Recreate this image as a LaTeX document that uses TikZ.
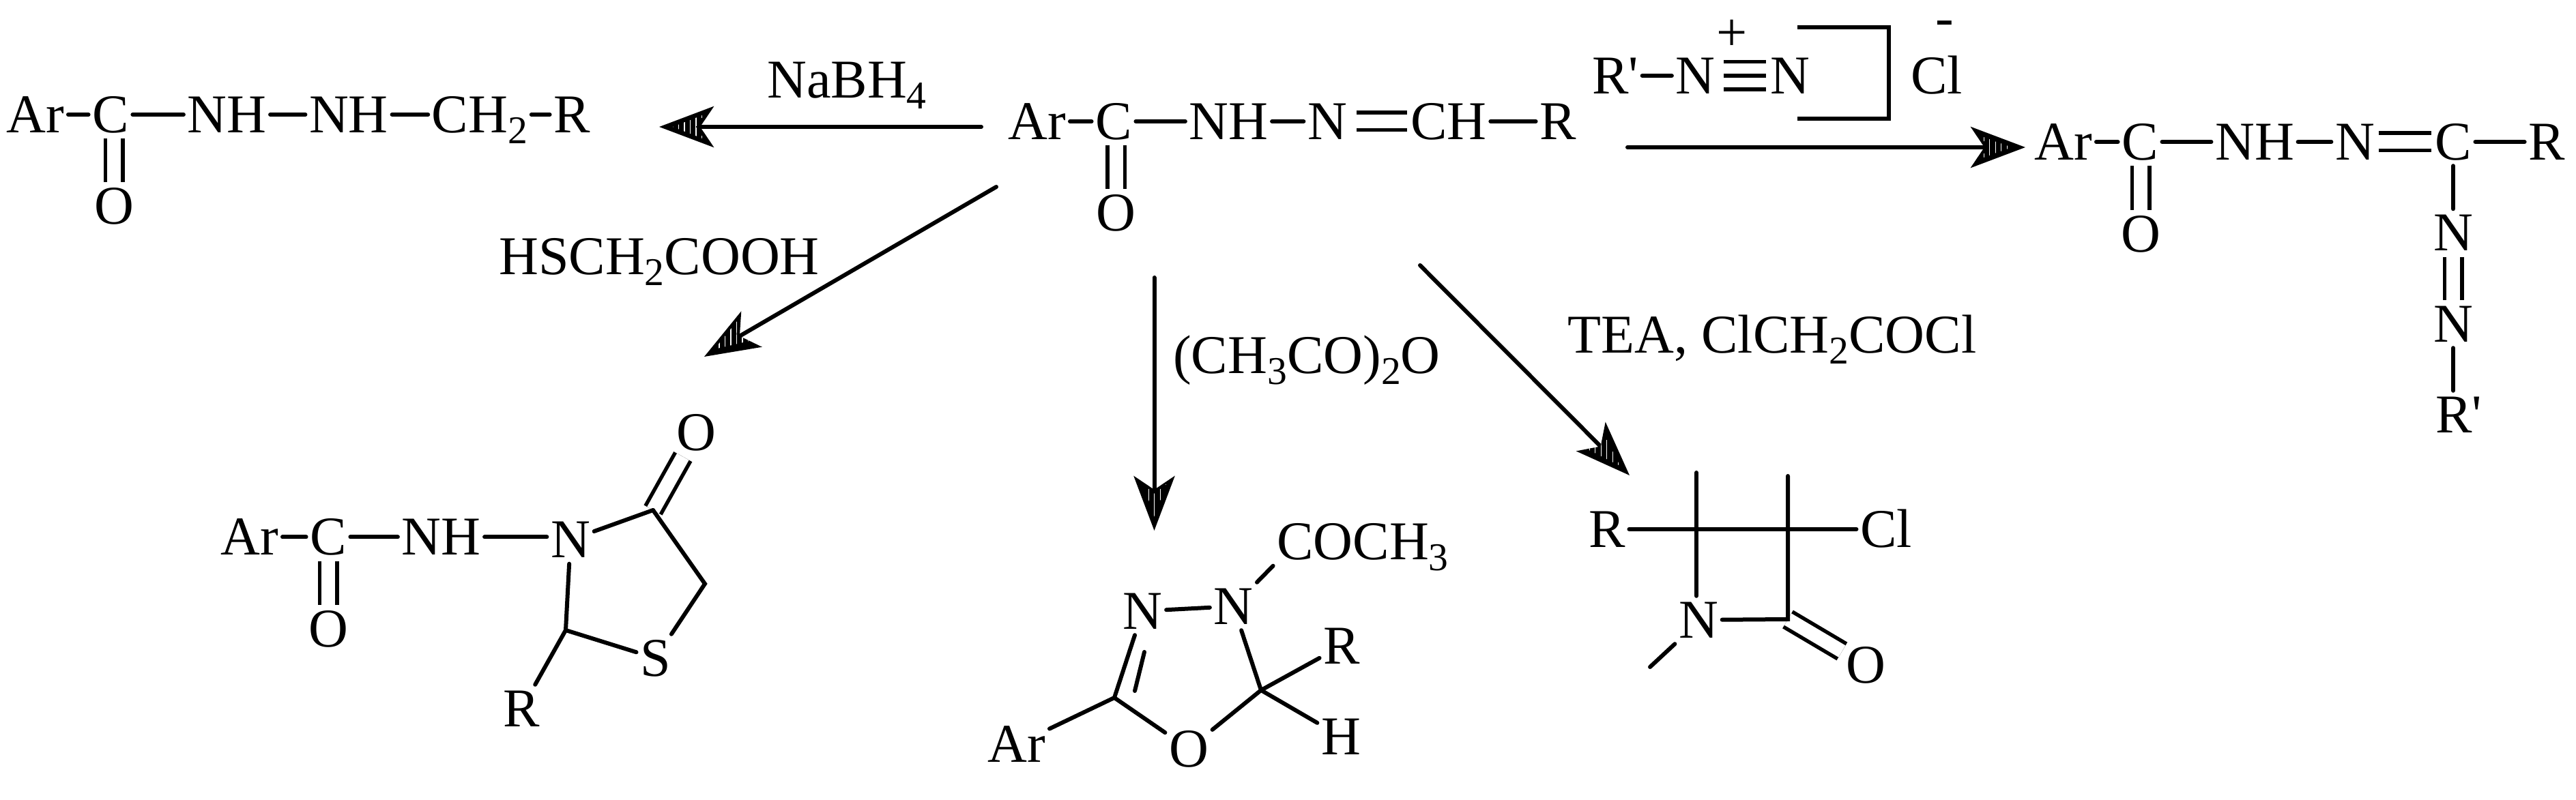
\documentclass[tikz,border=0pt]{standalone}
\usepackage{fontspec}
\setmainfont{Liberation Serif}
\usetikzlibrary{arrows.meta,patterns.meta}
\newcommand{\atomfont}{\fontsize{22.8}{27}\selectfont}
\newcommand{\chemsub}[1]{\raisebox{-.16cm}{\fontsize{16.4}{18}\selectfont #1}}
\newcommand{\primed}{\textquotesingle}
\tikzset{%
	atom/.style     = {font=\atomfont, inner xsep=.05cm, inner ysep=.08cm, text height=.53cm, text depth=0pt},
	charge/.style   = {font=\atomfont, inner sep=0pt, text height=.22cm, text depth=0pt, anchor=base},
	reagent/.style  = {atom},
	waypoint/.style = {coordinate},
	bond/.style     = {line width=.06cm, line cap=round},
	dbl/.style      = {line width=.055cm, double, double distance=.2cm},
	tpl/.style      = {line width=.055cm, double, double distance=.35cm},
	arrow/.style    = {bond, -{Stealth[length=.8cm,width=.6cm,inset=.2cm]}},
	stripes/.style  = {pattern={Lines[angle=90,distance=.085cm,line width=.012cm]}, pattern color=white},
}
\begin{document}
\begin{tikzpicture}[node distance = 1.5cm]
	\useasboundingbox (0,0) rectangle (37.75,-11.73);

	% reduced hydrazide, top left
	\node[atom] (arA) at (.52,-1.68) {Ar};
	\node[atom,right of=arA,node distance = 1.1cm] (cA) {C};
	\node[atom,right of=cA,node distance = 1.705cm] (nhA) {NH};
	\node[atom,right of=nhA,node distance = 1.785cm] (nhB) {NH};
	\node[atom,right of=nhB,node distance = 1.92cm] (chA) {CH\chemsub{2}};
	\node[atom,right of=chA,node distance = 1.35cm] (rA) {R};
	\node[atom,below of=cA,node distance = 1.34cm,xshift=.05cm] (oA) {O};

	\draw[bond] (arA) -- (cA);
	\draw[bond] (cA) -- (nhA);
	\draw[bond] (nhA) -- (nhB);
	\draw[bond] (nhB) -- (chA);
	\draw[bond] (chA) -- (rA);
	\draw[dbl] (oA |- cA.south) -- (oA);

	% hydrazone in the middle
	\node[atom] (arB) at (15.2,-1.78) {Ar};
	\node[atom,right of=arB,node distance = 1.12cm] (cB) {C};
	\node[atom,right of=cB,node distance = 1.685cm] (nhC) {NH};
	\node[atom,right of=nhC,node distance = 1.445cm] (nB) {N};
	\node[atom,right of=nB,node distance = 1.78cm] (chB) {CH};
	\node[atom,right of=chB,node distance = 1.6cm] (rB) {R};
	\node[atom,below of=cB,node distance = 1.34cm,xshift=.035cm] (oB) {O};

	\draw[bond] (arB) -- (cB);
	\draw[bond] (cB) -- (nhC);
	\draw[bond] (nhC) -- (nB);
	\draw[dbl,shorten <=.08cm] (nB) -- (chB);
	\draw[bond] (chB) -- (rB);
	\draw[dbl] (oB |- cB.south) -- (oB);

	% diazonium salt
	\node[atom] (rC) at (23.67,-1.11) {R\primed};
	\node[atom,right of=rC,node distance = 1.175cm] (nC) {N};
	\node[atom,right of=nC,node distance = 1.385cm] (nD) {N};
	\node[charge] (plus) at (25.38,-.75) {+};
	\node[atom] (clC) at (28.38,-1.11) {Cl};
	\node[charge] (minus) at (28.495,-.53) {-};
	\node[waypoint] (bk1) at (26.34,-.4) {};
	\node[waypoint] (bk2) at (27.68,-.4) {};
	\node[waypoint] (bk3) at (27.68,-1.74) {};
	\node[waypoint] (bk4) at (26.34,-1.74) {};

	\draw[bond] (rC) -- (nC);
	\draw[tpl,shorten <=.07cm] (nC) -- (nD);
	\draw[bond,line cap=butt,shorten <=.07cm] (nC) -- (nD);
	\draw[line width=.055cm] (bk1) -- (bk2) -- (bk3) -- (bk4);

	% azo product on the right
	\node[atom] (arD) at (30.24,-2.08) {Ar};
	\node[atom,right of=arD,node distance = 1.12cm] (cD) {C};
	\node[atom,right of=cD,node distance = 1.68cm] (nhD) {NH};
	\node[atom,right of=nhD,node distance = 1.47cm] (nE) {N};
	\node[atom,right of=nE,node distance = 1.44cm] (cE) {C};
	\node[atom,right of=cE,node distance = 1.37cm] (rD) {R};
	\node[atom,below of=cD,node distance = 1.35cm,xshift=.01cm] (oD) {O};
	\node[atom,below of=cE,node distance = 1.335cm] (nF) {N};
	\node[atom,below of=nF,node distance = 1.335cm] (nG) {N};
	\node[atom,below of=nG,node distance = 1.33cm,xshift=.08cm] (rE) {R\primed};

	\draw[bond] (arD) -- (cD);
	\draw[bond] (cD) -- (nhD);
	\draw[bond] (nhD) -- (nE);
	\draw[dbl] (nE) -- (cE);
	\draw[bond] (cE) -- (rD);
	\draw[dbl] (oD |- cD.south) -- (oD);
	\draw[bond] (cE) -- (nF);
	\draw[dbl] (nF) -- (nG);
	\draw[bond] (nG) -- (nG |- rE.north);

	% thiazolidinone
	\node[atom] (arH) at (3.66,-7.875) {Ar};
	\node[atom,right of=arH,node distance = 1.15cm] (cH) {C};
	\node[atom,right of=cH,node distance = 1.655cm] (nhH) {NH};
	\node[atom,right of=nhH,node distance = 1.895cm,yshift=-.04cm] (nH) {N};
	\node[atom,below of=cH,node distance = 1.35cm] (oH) {O};
	\node[atom] (oI) at (10.205,-6.345) {O};
	\node[atom] (sH) at (9.605,-9.65) {S};
	\node[atom] (rH) at (7.645,-10.39) {R};
	\node[waypoint] (ringA) at (9.57,-7.48) {};
	\node[waypoint] (ringB) at (10.33,-8.56) {};
	\node[waypoint] (ringC) at (8.29,-9.24) {};

	\draw[bond] (arH) -- (cH);
	\draw[bond] (cH) -- (nhH);
	\draw[bond] (nhH.east) -- (nhH.east -| nH.west);
	\draw[dbl] (oH |- cH.south) -- (oH);
	\draw[dbl] (ringA) -- (oI);
	\draw[bond] (nH) -- (ringA);
	\draw[bond] (ringA) -- (ringB) -- (sH);
	\draw[bond] (nH) -- (ringC);
	\draw[bond] (ringC) -- (sH);
	\draw[bond] (ringC) -- (rH);

	% oxadiazoline
	\node[atom] (nJ) at (16.745,-8.96) {N};
	\node[atom] (nK) at (18.075,-8.89) {N};
	\node[atom] (coK) at (19.97,-7.945) {COCH\chemsub{3}};
	\node[atom] (arJ) at (14.9,-10.915) {Ar};
	\node[atom] (oJ) at (17.42,-10.98) {O};
	\node[atom] (rJ) at (19.66,-9.47) {R};
	\node[atom] (hJ) at (19.65,-10.8) {H};
	\node[waypoint] (ringD) at (16.33,-10.23) {};
	\node[waypoint] (ringE) at (18.48,-10.12) {};
	\node[waypoint] (innerA) at (16.77,-9.56) {};
	\node[waypoint] (innerB) at (16.63,-10.13) {};

	\draw[bond] (nJ) -- (nK);
	\draw[bond] (nK) -- (coK.south west);
	\draw[bond] (nJ) -- (ringD);
	\draw[bond] (innerA) -- (innerB);
	\draw[bond] (ringD) -- (arJ);
	\draw[bond] (ringD) -- (oJ);
	\draw[bond] (oJ) -- (ringE);
	\draw[bond] (nK) -- (ringE);
	\draw[bond] (ringE) -- (rJ);
	\draw[bond] (ringE) -- (hJ);

	% azetidinone
	\node[atom] (rL) at (23.55,-7.76) {R};
	\node[atom] (clL) at (27.64,-7.76) {Cl};
	\node[atom] (nL) at (24.89,-9.09) {N};
	\node[atom] (oL) at (27.34,-9.755) {O};
	\node[waypoint] (topA) at (24.86,-6.93) {};
	\node[waypoint] (topB) at (26.2,-6.98) {};
	\node[waypoint] (cornerL) at (26.2,-9.08) {};
	\node[waypoint] (tailL) at (24.18,-9.78) {};

	\draw[dbl] (cornerL) -- (oL);
	\draw[bond] (rL) -- (clL);
	\draw[bond] (topA) -- (topA |- nL.north);
	\draw[bond] (topB) -- (cornerL) -- (nL);
	\draw[bond] (nL.south west) -- (tailL);

	% reagents
	\node[reagent] (nabh) at (12.41,-1.17) {NaBH\chemsub{4}};
	\node[reagent] (hsch) at (9.66,-3.765) {HSCH\chemsub{2}COOH};
	\node[reagent] (acan) at (19.15,-5.21) {(CH\chemsub{3}CO)\chemsub{2}O};
	\node[reagent] (teac) at (25.97,-4.915) {TEA, ClCH\chemsub{2}COCl};

	% arrows
	\node[waypoint] (arrA1) at (14.38,-1.86) {};
	\node[waypoint] (arrA2) at (9.66,-1.86) {};
	\node[waypoint] (arrB1) at (14.6,-2.74) {};
	\node[waypoint] (arrB2) at (10.32,-5.23) {};
	\node[waypoint] (arrC1) at (16.915,-4.07) {};
	\node[waypoint] (arrC2) at (16.915,-7.78) {};
	\node[waypoint] (arrD1) at (20.81,-3.89) {};
	\node[waypoint] (arrD2) at (23.88,-6.97) {};
	\node[waypoint] (arrE1) at (23.85,-2.16) {};
	\node[waypoint] (arrE2) at (29.68,-2.16) {};

	\draw[arrow] (arrA1) -- (arrA2);
	\draw[arrow] (arrB1) -- (arrB2);
	\draw[arrow] (arrC1) -- (arrC2);
	\draw[arrow] (arrD1) -- (arrD2);
	\draw[arrow] (arrE1) -- (arrE2);

	\fill[stripes] (9.86,-1.86) -- (10.32,-1.68) -- (10.2,-1.86) -- (10.32,-2.04) -- cycle;
	\fill[stripes] (10.47,-5.12) -- (10.81,-4.7) -- (10.795,-4.91) -- (10.98,-5) -- cycle;
	\fill[stripes] (16.92,-7.58) -- (16.75,-7.1) -- (16.92,-7.24) -- (17.09,-7.1) -- cycle;
	\fill[stripes] (23.74,-6.83) -- (23.49,-6.34) -- (23.46,-6.55) -- (23.25,-6.58) -- cycle;
	\fill[stripes] (29.48,-2.16) -- (29.01,-1.99) -- (29.15,-2.16) -- (29.01,-2.33) -- cycle;
\end{tikzpicture}
\end{document}
